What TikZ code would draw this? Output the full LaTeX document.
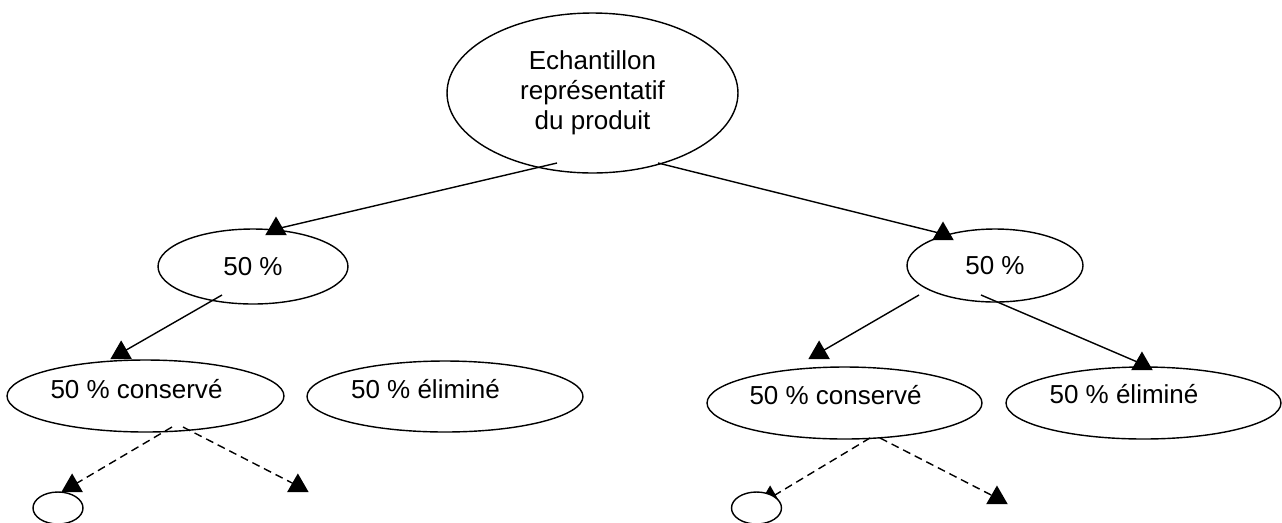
\documentclass[tikz,border=0pt]{standalone}
\usepackage{fontspec}
\setmainfont{Liberation Sans}
\usetikzlibrary{shapes.geometric,decorations.markings}

\tikzset{
  oval/.style={ellipse,draw,inner sep=0pt},
  tip/.style={regular polygon,regular polygon sides=3,fill,draw=none,inner sep=0pt,minimum size=0.5cm},
  arrowed/.style={decoration={markings,mark=at position 1 with {\node[tip] {};}},postaction={decorate}},
  lost/.style={dash pattern=on 0.16cm off 0.1cm}
}

\begin{document}
\begin{tikzpicture}[x=0.02cm,y=-0.02cm,line width=0.8pt,font=\fontsize{14.8pt}{17pt}\selectfont]

      \useasboundingbox (0,0) rectangle (1282,522);

      \node[oval,minimum width=5.82cm,minimum height=3.2cm,align=center] (sample) at (592.5,93)
        {Echantillon\\représentatif\\du produit};

      \node[oval,minimum width=3.8cm,minimum height=1.5cm]  (halfL) at (253,266.5) {50 \%};
      \node[oval,minimum width=3.52cm,minimum height=1.46cm] (halfR) at (995,265.5) {50 \%};

      \node[oval,minimum width=5.54cm,minimum height=1.44cm,
            label={[xshift=-0.18cm,yshift=0.14cm]center:50 \% conservé}] (keptL) at (145.5,396) {};
      \node[oval,minimum width=5.52cm,minimum height=1.42cm,
            label={[xshift=-0.39cm,yshift=0.14cm]center:50 \% éliminé}] (dropL) at (445,396.5) {};
      \node[oval,minimum width=5.5cm,minimum height=1.44cm,
            label={[xshift=-0.18cm,yshift=0.16cm]center:50 \% conservé}] (keptR) at (844.5,403) {};
      \node[oval,minimum width=5.5cm,minimum height=1.44cm,
            label={[xshift=-0.39cm,yshift=0.18cm]center:50 \% éliminé}] (dropR) at (1143.5,403) {};

      \coordinate (subLL) at (72,486);
      \coordinate (subLR) at (298,486);
      \coordinate (subRL) at (770,498);
      \coordinate (subRR) at (997,498);

      \begin{scope}[every edge/.style={draw,arrowed}]
        \path ([shift={(-35.5,70)}]sample.center) edge ([shift={(23,-37.5)}]halfL.center);
        \path ([shift={(65.5,70)}]sample.center)  edge ([shift={(-52,-31.5)}]halfR.center);
        \path ([shift={(-31,28.5)}]halfL.center)  edge ([shift={(-24.5,-43)}]keptL.center);
        \path ([shift={(-76,29.5)}]halfR.center)  edge ([shift={(-25.5,-50)}]keptR.center);
        \path ([shift={(-14,29.5)}]halfR.center)  edge ([shift={(-1.5,-39)}]dropR.center);

        \path ([shift={(26.5,31)}]keptL.center) edge[lost] (subLL);
        \path ([shift={(37.5,31)}]keptL.center) edge[lost] (subLR);
        \path ([shift={(25.5,35)}]keptR.center) edge[lost] (subRL);
        \path ([shift={(35.5,35)}]keptR.center) edge[lost] (subRR);
      \end{scope}

      % small samples, drawn over the tips
      \node[oval,fill=white,minimum width=1cm,minimum height=0.64cm] (restL) at (58,508) {};
      \node[oval,fill=white,minimum width=1cm,minimum height=0.64cm] (restR) at (756.5,508) {};

\end{tikzpicture}
\end{document}
